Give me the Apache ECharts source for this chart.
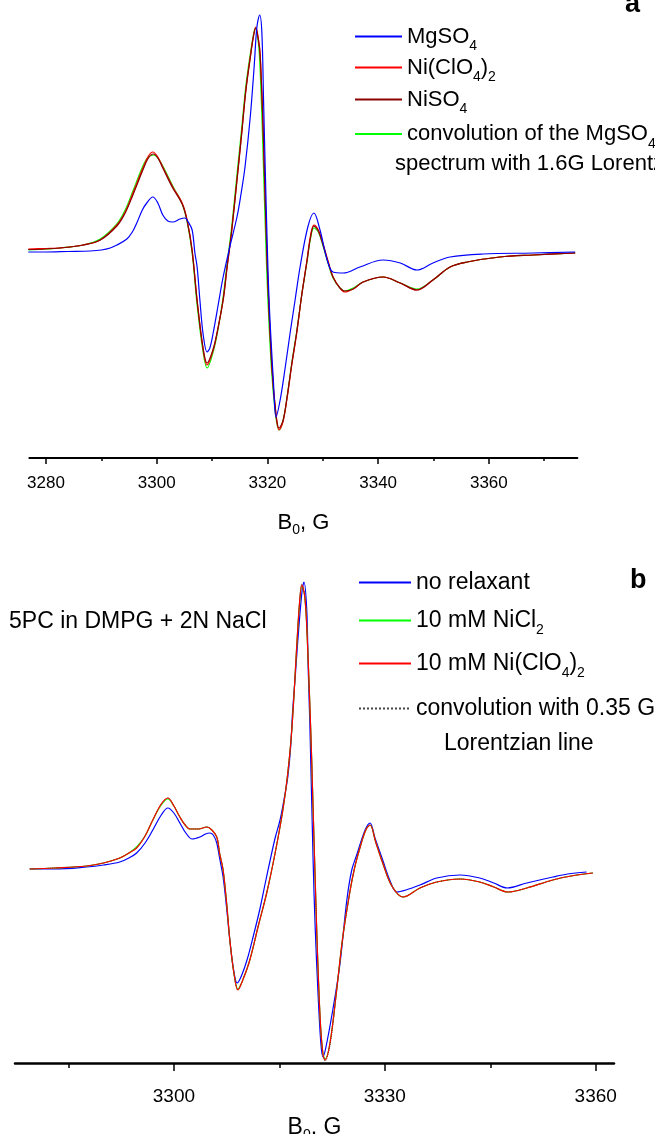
<!DOCTYPE html>
<html>
<head>
<meta charset="utf-8">
<script src="https://cdn.jsdelivr.net/npm/echarts@6/dist/echarts.min.js"></script>
<style>
html,body{margin:0;padding:0;background:#fff;}
#chart{width:655px;height:1134px;}
</style>
</head>
<body>
<div id="chart"></div>
<script>
// ---------- Panel a : [B0 (G), signal (arb. units)] ----------
const mgso4A = [[3276.8,-2],[3280,-2],[3284,-1.5],[3288,-1],[3290,0],[3291.6,2],[3292.8,5],[3294.6,11],[3295.6,18],[3296.4,27],[3297.4,40],[3298.2,47],[3299.3,53],[3300.2,47],[3301.1,35],[3302.0,29],[3302.9,28],[3304.2,31],[3305.1,32],[3305.7,28],[3306.4,20],[3306.9,-3],[3307.3,-17],[3307.8,-50],[3308.4,-85],[3309.1,-102],[3309.6,-98],[3310.2,-83],[3311.1,-55],[3312.0,-27],[3313.2,3],[3314.5,33],[3315.2,55],[3315.95,83],[3316.9,133],[3317.6,183],[3318.1,223],[3318.6,235],[3319.0,217],[3319.3,150],[3319.75,50],[3320.3,-50],[3321.1,-133],[3321.55,-167],[3322.3,-150],[3323.2,-118],[3324.1,-83],[3325.0,-50],[3325.9,-17],[3327.3,23],[3328.4,37],[3329.5,20],[3330.8,-10],[3331.85,-22],[3333.7,-23],[3336.7,-17],[3340.9,-10],[3344.0,-13],[3347.0,-20],[3349.9,-13],[3353.0,-7],[3358.95,-4],[3368.0,-3],[3375.6,-2]];
const niclo4A = [[3276.8,1],[3280,1.5],[3282.5,2],[3286.7,5],[3289.8,10],[3292.8,25],[3294.3,38],[3295.7,57],[3297.5,82],[3298.5,94],[3299.3,98],[3300.2,93],[3301.1,83],[3302.9,63],[3304.6,47],[3305.5,30],[3306.4,0],[3307.3,-50],[3308.4,-100],[3309.1,-115],[3310.2,-100],[3311.0,-80],[3312.0,-50],[3312.7,-18],[3313.5,17],[3314.4,65],[3315.35,117],[3316.1,160],[3316.9,193],[3317.5,215],[3317.9,223],[3318.4,210],[3318.7,195],[3319.25,117],[3319.98,-17],[3320.8,-117],[3321.55,-165],[3322.1,-180],[3322.8,-172],[3323.5,-150],[3324.4,-115],[3325.3,-83],[3326.2,-45],[3327.15,-10],[3327.8,15],[3328.4,25],[3329.2,20],[3330.0,7],[3331.0,-12],[3331.85,-27],[3333.1,-38],[3334.0,-42],[3335.5,-39],[3337.3,-32],[3340.9,-27],[3344.0,-33],[3347.0,-40],[3349.9,-30],[3353.0,-17],[3356.1,-12],[3362.0,-7],[3368.0,-5],[3375.6,-3]];
const niso4A = [[3276.8,0.5],[3280,1],[3282.5,2],[3286.7,5],[3289.8,10],[3292.8,24],[3294.3,37],[3295.7,55],[3297.5,80],[3298.5,92],[3299.4,96],[3300.2,92],[3301.1,82],[3302.9,62],[3304.6,46],[3305.5,29],[3306.4,-1],[3307.3,-51],[3308.4,-99],[3309.1,-113],[3310.2,-99],[3311.0,-80],[3312.0,-50],[3312.7,-18],[3313.5,17],[3314.4,64],[3315.35,116],[3316.1,159],[3316.9,192],[3317.5,214],[3317.9,222],[3318.4,209],[3318.7,194],[3319.25,117],[3319.98,-17],[3320.8,-116],[3321.55,-164],[3322.1,-178],[3322.8,-171],[3323.5,-149],[3324.4,-114],[3325.3,-82],[3326.2,-45],[3327.15,-11],[3327.8,13],[3328.4,24],[3329.2,19],[3330.0,6],[3331.0,-13],[3331.85,-27],[3333.1,-38],[3334.0,-41],[3335.5,-39],[3337.3,-32],[3340.9,-27],[3344.0,-33],[3347.0,-40],[3349.9,-30],[3353.0,-17],[3356.1,-12],[3362.0,-7],[3368.0,-5],[3375.6,-3]];
const convA = [[3276.8,0],[3280,1],[3282.5,2],[3286.7,5],[3289.8,11],[3292.8,26],[3294.3,40],[3295.7,59],[3297.5,84],[3298.5,93],[3299.5,95],[3300.2,92],[3301.1,84],[3302.9,64],[3304.6,46],[3305.5,28],[3306.4,-3],[3307.3,-55],[3308.4,-103],[3309.1,-118],[3310.2,-102],[3311.0,-82],[3312.0,-47],[3312.7,-14],[3313.5,21],[3314.4,70],[3315.35,122],[3316.1,164],[3316.9,196],[3317.5,216],[3317.8,222],[3318.3,210],[3318.6,190],[3319.1,117],[3319.85,-17],[3320.7,-117],[3321.5,-166],[3322.1,-180],[3322.8,-171],[3323.5,-149],[3324.4,-113],[3325.3,-81],[3326.2,-45],[3327.15,-12],[3327.8,12],[3328.4,22],[3329.2,18],[3330.0,5],[3331.0,-14],[3331.85,-28],[3333.1,-38],[3334.0,-41],[3335.5,-38],[3337.3,-32],[3340.9,-27],[3344.0,-33],[3347.0,-39],[3349.9,-30],[3353.0,-17],[3356.1,-12],[3362.0,-7],[3368.0,-5],[3375.6,-3]];

// ---------- Panel b ----------
const noRelaxB = [[3279.5,-1],[3283,-1],[3287.6,1],[3290,3],[3292.3,6],[3293.6,10],[3294.7,15],[3295.9,25],[3297.0,38],[3298.2,53],[3299.15,60],[3300.0,55],[3300.85,45],[3301.7,35],[3302.6,29],[3303.7,31],[3304.5,34],[3305.1,35],[3305.6,33],[3306.1,25],[3306.5,10],[3307.0,-9],[3307.5,-40],[3308.0,-75],[3308.5,-102],[3309.0,-115],[3309.6,-108],[3310.4,-92],[3311.3,-68],[3312.2,-42],[3313.0,-15],[3313.7,8],[3314.4,30],[3315.1,48],[3315.7,70],[3316.2,91],[3316.6,120],[3316.9,158],[3317.3,195],[3317.6,225],[3318.2,275],[3318.5,286],[3318.9,258],[3319.1,200],[3319.35,141],[3319.8,8],[3320.1,-60],[3320.5,-125],[3320.9,-175],[3321.2,-189],[3321.6,-180],[3322.6,-142],[3323.6,-97],[3324.6,-32],[3325.3,-2],[3326.0,13],[3327.2,38],[3327.9,45],[3328.6,30],[3329.7,8],[3330.7,-12],[3331.7,-24],[3333.0,-22],[3335.0,-17],[3337.4,-10],[3340.7,-7],[3343.5,-10],[3345.5,-15],[3347.4,-20],[3350.2,-15],[3353.9,-9],[3356.0,-6],[3358.7,-4]];
const niclo4B = [[3279.5,-1],[3283,0],[3287.6,2],[3290,5],[3292.3,10],[3293.6,15],[3294.7,20],[3295.9,32],[3297.0,48],[3298.2,64],[3299.15,70],[3300.0,62],[3300.85,51],[3301.6,43],[3302.3,39],[3303.5,39],[3304.7,41],[3305.4,38],[3306.1,31],[3306.5,15],[3307.0,-2],[3307.5,-35],[3308.0,-75],[3308.6,-108],[3309.1,-122],[3309.8,-112],[3310.8,-92],[3312.0,-58],[3313.2,-25],[3314.4,15],[3315.5,58],[3316.2,95],[3316.8,141],[3317.5,225],[3317.9,268],[3318.2,283],[3318.6,272],[3318.9,241],[3319.3,170],[3319.6,108],[3320.3,-59],[3320.8,-150],[3321.2,-186],[3321.5,-192],[3322.2,-175],[3323.1,-125],[3324.0,-70],[3325.0,-25],[3325.7,0],[3326.5,21],[3327.3,38],[3327.9,43],[3328.7,26],[3329.7,5],[3331.0,-18],[3332.6,-29],[3335.0,-20],[3337.4,-14],[3340.7,-11],[3343.5,-14],[3345.5,-19],[3347.5,-24],[3350.2,-20],[3353.9,-12],[3356.5,-8],[3359.6,-5]];
const nicl2B = [[3279.5,-1],[3283,0],[3287.6,2],[3290,5],[3292.3,10],[3293.6,15],[3294.7,21],[3295.9,32],[3297.0,48],[3298.2,63],[3299.15,69],[3300.0,62],[3300.85,51],[3301.6,43],[3302.3,39],[3303.5,39],[3304.7,41],[3305.4,38],[3306.1,31],[3306.5,15],[3307.0,-2],[3307.5,-35],[3308.0,-75],[3308.6,-108],[3309.1,-121],[3309.8,-112],[3310.8,-92],[3312.0,-58],[3313.2,-25],[3314.4,15],[3315.5,58],[3316.2,95],[3316.8,141],[3317.5,225],[3317.9,267],[3318.2,282],[3318.6,272],[3318.9,241],[3319.3,170],[3319.6,108],[3320.3,-59],[3320.8,-150],[3321.2,-186],[3321.5,-191],[3322.2,-175],[3323.1,-125],[3324.0,-70],[3325.0,-25],[3325.7,0],[3326.5,21],[3327.3,38],[3327.9,43],[3328.7,26],[3329.7,5],[3331.0,-18],[3332.6,-29],[3335.0,-20],[3337.4,-14],[3340.7,-11],[3343.5,-14],[3345.5,-19],[3347.5,-24],[3350.2,-20],[3353.9,-12],[3356.5,-8],[3359.6,-5]];
const convB = [[3279.5,-1],[3283,0],[3287.6,2],[3290,5],[3292.3,10],[3293.6,15],[3294.7,20],[3295.9,32],[3297.0,48],[3298.2,64],[3299.15,70],[3300.0,62],[3300.85,51],[3301.6,43],[3302.3,39],[3303.5,39],[3304.7,41],[3305.4,38],[3306.1,31],[3306.5,15],[3307.0,-2],[3307.5,-35],[3308.0,-74],[3308.6,-108],[3309.1,-122],[3309.8,-112],[3310.8,-92],[3312.0,-58],[3313.2,-25],[3314.4,15],[3315.5,58],[3316.2,95],[3316.8,141],[3317.5,224],[3317.9,268],[3318.2,284],[3318.6,273],[3318.9,242],[3319.3,172],[3319.6,110],[3320.3,-57],[3320.8,-150],[3321.2,-186],[3321.5,-193],[3322.2,-177],[3323.1,-127],[3324.0,-72],[3325.0,-26],[3325.7,0],[3326.5,21],[3327.3,38],[3327.9,43],[3328.7,26],[3329.7,5],[3331.0,-18],[3332.6,-29],[3335.0,-20],[3337.4,-14],[3340.7,-11],[3343.5,-14],[3345.5,-19],[3347.5,-24],[3350.2,-20],[3353.9,-12],[3356.5,-8],[3359.6,-5]];

// ---------- ticks ----------
const ticksA = [3280, 3300, 3320, 3340, 3360];
const minorTicksA = [3290, 3310, 3330, 3350, 3370];
const ticksB = [3300, 3330, 3360];
const minorTicksB = [3285, 3315, 3345];

const FONT = '"Liberation Sans", Arial, Helvetica, sans-serif';

function rich(size, lh, sub) {
  return {
    n: { fontSize: size, lineHeight: lh, fontFamily: FONT, color: '#000' },
    s: { fontSize: sub, lineHeight: sub, verticalAlign: 'bottom', fontFamily: FONT, color: '#000' }
  };
}

const legendText = {
  'MgSO4': '{n|MgSO}{s|4}',
  'Ni(ClO4)2': '{n|Ni(ClO}{s|4}{n|)}{s|2}',
  'NiSO4': '{n|NiSO}{s|4}',
  'convolution of the MgSO4 spectrum with 1.6G Lorentz': '{n|convolution of the MgSO}{s|4}',
  'no relaxant': '{n|no relaxant}',
  '10 mM NiCl2': '{n|10 mM NiCl}{s|2}',
  '10 mM Ni(ClO4)2': '{n|10 mM Ni(ClO}{s|4}{n|)}{s|2}',
  'convolution with 0.35 G Lorentzian line': '{n|convolution with 0.35 G}'
};

function legendRow(name, left, top, w, size) {
  return {
    data: [name], left: left, top: top, padding: 0, orient: 'horizontal',
    itemWidth: w, itemHeight: 14, selectedMode: false,
    itemStyle: { opacity: 0 },
    formatter: function (n) { return legendText[n]; },
    textStyle: { fontSize: size, fontFamily: FONT, color: '#000', rich: rich(size, 34, 14) }
  };
}

function line(name, data, color, gi, z, extra) {
  return Object.assign({
    type: 'line', name: name, data: data, xAxisIndex: gi * 2, yAxisIndex: gi,
    symbol: 'none', smooth: 0.35, z: z, animation: false,
    lineStyle: { color: color, width: 1.2 }, itemStyle: { color: color }
  }, extra || {});
}

function xMain(gi, min, max, ticks, size, margin, tlen, lw, nameGap, nameSize) {
  return {
    type: 'value', gridIndex: gi, min: min, max: max, position: 'bottom',
    axisLine: { show: true, onZero: false, lineStyle: { color: '#000', width: lw } },
    axisTick: { show: true, customValues: ticks, length: tlen, lineStyle: { color: '#000', width: 1.5 } },
    axisLabel: { show: true, customValues: ticks, fontSize: size, fontFamily: FONT, color: '#000', margin: margin,
                 formatter: function (v) { return String(v); } },
    splitLine: { show: false },
    name: 'B{s|0}{n|, G}', nameLocation: 'middle', nameGap: nameGap,
    nameTextStyle: { fontSize: nameSize, fontFamily: FONT, color: '#000', rich: rich(nameSize, 28, 14) }
  };
}
function xMinor(gi, min, max, ticks, tlen) {
  return {
    type: 'value', gridIndex: gi, min: min, max: max, position: 'bottom',
    axisLine: { show: false, onZero: false },
    axisTick: { show: true, customValues: ticks, length: tlen, lineStyle: { color: '#000', width: 1.5 } },
    axisLabel: { show: false }, splitLine: { show: false }
  };
}

const chart = echarts.init(document.getElementById('chart'), null, { renderer: 'canvas' });
chart.setOption({
  backgroundColor: '#fff',
  animation: false,
  grid: [
    { left: 29.4, top: 8, width: 548, height: 450, outerBoundsMode: 'none', containLabel: false },
    { left: 15, top: 560, width: 599, height: 503, outerBoundsMode: 'none', containLabel: false }
  ],
  xAxis: [
    xMain(0, 3277, 3376, ticksA, 17, 17, 6, 2, 51, 22),
    xMinor(0, 3277, 3376, minorTicksA, 3),
    xMain(1, 3277.4, 3362.6, ticksB, 19, 24, 8, 2.5, 51, 23),
    xMinor(1, 3277.4, 3362.6, minorTicksB, 5)
  ],
  yAxis: [
    { type: 'value', gridIndex: 0, min: -208, max: 242, show: false },
    { type: 'value', gridIndex: 1, min: -195, max: 308, show: false }
  ],
  legend: [
    legendRow('MgSO4', 354, 25.5, 47, 22),
    legendRow('Ni(ClO4)2', 354, 56.5, 47, 22),
    legendRow('NiSO4', 354, 88.5, 47, 22),
    legendRow('convolution of the MgSO4 spectrum with 1.6G Lorentz', 354, 123, 47, 22),
    legendRow('no relaxant', 358, 571, 52, 23),
    legendRow('10 mM NiCl2', 358, 609, 52, 23),
    legendRow('10 mM Ni(ClO4)2', 358, 652, 52, 23),
    legendRow('convolution with 0.35 G Lorentzian line', 358, 697, 52, 23)
  ],
  series: [
    line('convolution of the MgSO4 spectrum with 1.6G Lorentz', convA, '#00ff00', 0, 1),
    line('Ni(ClO4)2', niclo4A, '#ff0000', 0, 2),
    line('NiSO4', niso4A, '#8b0000', 0, 3),
    line('MgSO4', mgso4A, '#0000ff', 0, 4),
    line('no relaxant', noRelaxB, '#0000ff', 1, 1),
    line('10 mM NiCl2', nicl2B, '#00ff00', 1, 2),
    line('convolution with 0.35 G Lorentzian line', convB, '#444444', 1, 3, { lineStyle: { color: '#444444', width: 1, type: 'dotted' } }),
    line('10 mM Ni(ClO4)2', niclo4B, '#ff0000', 1, 4)
  ],
  graphic: [
    { type: 'text', left: 395, top: 166 - 13, style: { text: 'spectrum with 1.6G Lorentz', font: '22px ' + FONT, fill: '#000' } },
    { type: 'text', left: 444, top: 745 - 13, style: { text: 'Lorentzian line', font: '23px ' + FONT, fill: '#000' } },
    { type: 'text', left: 9, top: 623 - 13, style: { text: '5PC in DMPG + 2N NaCl', font: '23px ' + FONT, fill: '#000' } },
    { type: 'text', x: 625, y: 5, style: { text: 'a', font: 'bold 27px ' + FONT, fill: '#000', verticalAlign: 'middle' } },
    { type: 'text', x: 630, y: 581, style: { text: 'b', font: 'bold 27px ' + FONT, fill: '#000', verticalAlign: 'middle' } }
  ]
});
</script>
</body>
</html>
